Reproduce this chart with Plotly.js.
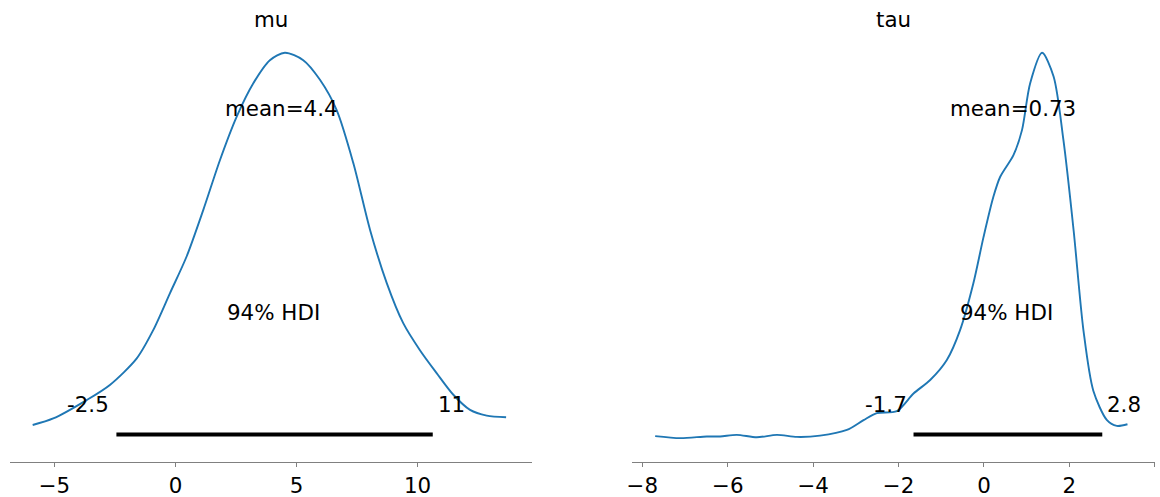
<!DOCTYPE html>
<html>
<head>
<meta charset="utf-8">
<script src="https://cdn.plot.ly/plotly-3.0.1.min.js"></script>
<style>html,body{margin:0;padding:0;background:#fff;}#chart{width:1160px;height:497px;}</style>
</head>
<body>
<div id="chart"></div>
<script>
// Posterior density of mu (relative height)
const muX = [-5.90,-5.05,-3.67,-2.71,-1.60,-0.92,-0.23,0.46,1.15,1.84,2.53,3.21,3.90,4.52,5.28,5.97,6.66,7.35,8.04,8.73,9.41,10.10,10.79,11.48,12.17,12.86,13.66];
const muY = [0.043,0.059,0.104,0.141,0.206,0.275,0.365,0.455,0.569,0.691,0.797,0.878,0.935,0.953,0.935,0.887,0.813,0.683,0.520,0.390,0.292,0.226,0.170,0.117,0.080,0.066,0.062];
// Posterior density of tau
const tauX = [-7.70,-7.11,-6.49,-6.18,-5.79,-5.32,-4.85,-4.38,-3.84,-3.21,-2.82,-2.51,-2.04,-1.65,-1.26,-0.87,-0.56,-0.25,-0.01,0.22,0.38,0.69,0.89,1.08,1.36,1.63,1.86,2.10,2.33,2.56,2.88,3.11,3.36];
const tauY = [0.016,0.011,0.015,0.015,0.019,0.013,0.019,0.014,0.017,0.031,0.055,0.072,0.077,0.120,0.153,0.202,0.275,0.389,0.503,0.601,0.650,0.703,0.764,0.878,0.953,0.895,0.740,0.518,0.274,0.127,0.055,0.041,0.045];

const names = ["mu", "tau"];
const means = [4.4, 0.73];
const meanLabels = ["mean=4.4", "mean=0.73"];
const hdiLow = [-2.44, -1.65];
const hdiHigh = [10.63, 2.77];
const hdiLowLabels = ["-2.5", "-1.7"];
const hdiHighLabels = ["11", "2.8"];
const hdiText = "94% HDI";
const barLevel = 0.02;

const blue = "#1f77b4";
const font = "DejaVu Sans, sans-serif";
const fs = 21.4;

const traces = [
  {x: muX, y: muY, type: "scatter", mode: "lines", line: {color: blue, width: 1.9, shape: "spline", smoothing: 0.8}, xaxis: "x", yaxis: "y", hoverinfo: "skip"},
  {x: tauX, y: tauY, type: "scatter", mode: "lines", line: {color: blue, width: 1.9, shape: "spline", smoothing: 0.8}, xaxis: "x2", yaxis: "y2", hoverinfo: "skip"},
  {x: [hdiLow[0], hdiHigh[0]], y: [barLevel, barLevel], type: "scatter", mode: "lines", line: {color: "black", width: 4}, xaxis: "x", yaxis: "y", hoverinfo: "skip"},
  {x: [hdiLow[1], hdiHigh[1]], y: [barLevel, barLevel], type: "scatter", mode: "lines", line: {color: "black", width: 4}, xaxis: "x2", yaxis: "y2", hoverinfo: "skip"}
];

const annotations = [];
const axes = [["x", "y"], ["x2", "y2"]];
for (let i = 0; i < 2; i++) {
  const xr = axes[i][0], yr = axes[i][1];
  annotations.push({xref: xr, yref: yr, x: means[i], y: 0.818, text: meanLabels[i], showarrow: false, xanchor: "center", yanchor: "middle", xshift: i === 1 ? -2 : 0, font: {family: font, size: fs, color: "black"}});
  annotations.push({xref: xr, yref: yr, x: (hdiLow[i] + hdiHigh[i]) / 2, y: 0.319, text: hdiText, showarrow: false, xanchor: "center", yanchor: "middle", xshift: -1, font: {family: font, size: fs, color: "black"}});
  annotations.push({xref: xr, yref: yr, x: hdiLow[i], y: 0.092, text: hdiLowLabels[i], showarrow: false, xanchor: "right", xshift: -5, yanchor: "middle", font: {family: font, size: fs, color: "black"}});
  annotations.push({xref: xr, yref: yr, x: hdiHigh[i], y: 0.092, text: hdiHighLabels[i], showarrow: false, xanchor: "left", xshift: 3, yanchor: "middle", font: {family: font, size: fs, color: "black"}});
  annotations.push({xref: xr + " domain", yref: "paper", x: 0.5, y: 1 - 19 / 497, text: names[i], showarrow: false, xanchor: "center", yanchor: "middle", font: {family: font, size: fs, color: "black"}});
}

const xaxisBase = {
  showline: true, linecolor: "#808080", linewidth: 1,
  ticks: "outside", ticklen: 4, tickcolor: "#808080", tickwidth: 1,
  showgrid: false, zeroline: false,
  tickfont: {family: font, size: fs, color: "black"},
  automargin: false, fixedrange: true
};
const yaxisBase = {visible: false, showgrid: false, zeroline: false, range: [-0.0474, 1.0], fixedrange: true, automargin: false};

const yDomain = [(497 - 462) / 497, (497 - 33.6) / 497];

const layout = {
  width: 1160, height: 497,
  margin: {l: 0, r: 0, t: 0, b: 0},
  paper_bgcolor: "white", plot_bgcolor: "white",
  showlegend: false,
  xaxis: Object.assign({}, xaxisBase, {domain: [10.4 / 1160, 532 / 1160], range: [-6.82, 14.73], dtick: 5, tick0: 0, anchor: "y"}),
  yaxis: Object.assign({}, yaxisBase, {domain: yDomain, anchor: "x"}),
  xaxis2: Object.assign({}, xaxisBase, {domain: [632.1 / 1160, 1154.8 / 1160], range: [-8.24, 4.0], dtick: 2, tick0: 0, anchor: "y2"}),
  yaxis2: Object.assign({}, yaxisBase, {domain: yDomain, anchor: "x2"}),
  annotations: annotations
};

Plotly.newPlot("chart", traces, layout, {staticPlot: true, displayModeBar: false});
</script>
</body>
</html>
